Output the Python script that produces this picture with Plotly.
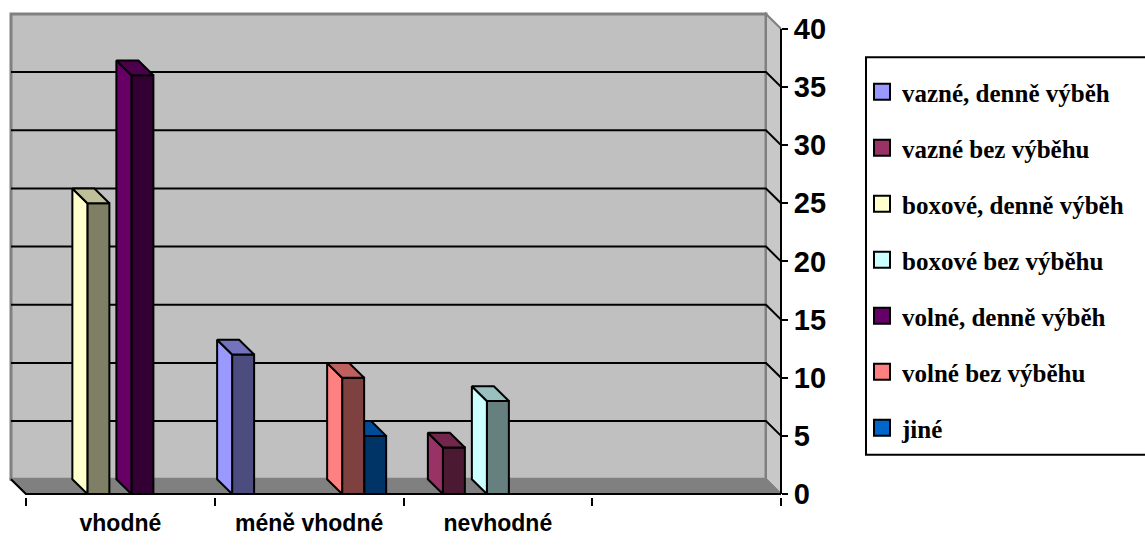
import plotly.graph_objects as go

# ---- data -------------------------------------------------------------
categories = ["vhodné", "méně vhodné", "nevhodné", ""]
series_names = [
    "vazné, denně výběh",
    "vazné bez výběhu",
    "boxové, denně výběh",
    "boxové bez výběhu",
    "volné, denně výběh",
    "volné bez výběhu",
    "jiné",
]
vazne_denne = [None, 12, None, None]
vazne_bez = [None, None, 4, None]
boxove_denne = [25, None, None, None]
boxove_bez = [None, None, 8, None]
volne_denne = [36, None, None, None]
volne_bez = [None, 10, None, None]
jine = [None, 5, None, None]
series_values = [vazne_denne, vazne_bez, boxove_denne, boxove_bez,
                 volne_denne, volne_bez, jine]
series_colors = ["#9999FF", "#993366", "#FFFFCC", "#CCFFFF",
                 "#660066", "#FF8080", "#0066CC"]
y_ticks = [0, 5, 10, 15, 20, 25, 30, 35, 40]
Y_TOP = 40

# ---- geometry of the pseudo-3D box (pixels -> data units) --------------
W, H = 1145, 545
PX_LEFT, PX_RIGHT, PX_TOP, PX_BOTTOM = 9, 781, 11, 505
FRONT_X0_PX = 26          # front-left corner of the floor
Y0_PX, YTOP_PX = 502, 29  # front-plane pixel rows of 0 and 40
DEPTH_PX = 15             # oblique offset of the back plane

n_cat = len(categories)
PXX = (PX_RIGHT - FRONT_X0_PX) / n_cat
PXY = (Y0_PX - YTOP_PX) / Y_TOP
DX = DEPTH_PX / PXX
DY = DEPTH_PX / PXY
x_range = [-(FRONT_X0_PX - PX_LEFT) / PXX, n_cat]
y_range = [-(PX_BOTTOM - Y0_PX) / PXY, Y_TOP + (YTOP_PX - PX_TOP) / PXY]

SIDE_GAP = 0.092
n_ser = len(series_names)
BAR_W = (1 - 2 * SIDE_GAP) / n_ser


def shade(hex_color, k):
    h = hex_color.lstrip("#")
    r, g, b = (int(h[i:i + 2], 16) for i in (0, 2, 4))
    return "rgb({},{},{})".format(int(r * k), int(g * k), int(b * k))


fig = go.Figure()

# legend entries
for name, col in zip(series_names, series_colors):
    fig.add_trace(go.Scatter(
        x=[None], y=[None], mode="markers", name="<b>" + name + "</b>",
        legendgroup=name,
        marker=dict(symbol="square", size=16, color=col,
                    line=dict(color="black", width=2)),
        hoverinfo="skip"))

# bars: series further left sit in front of the ones to their right
for s, (name, vals, col) in enumerate(zip(series_names, series_values, series_colors)):
    z = n_ser - s
    xs_side, ys_side, xs_top, ys_top = [], [], [], []
    bx, by = [], []
    for c, v in enumerate(vals):
        if v is None:
            continue
        x0 = c + SIDE_GAP + s * BAR_W
        x1 = x0 + BAR_W
        xs_side += [x0, x0, x0 - DX, x0 - DX, x0, None]
        ys_side += [0, v, v + DY, DY, 0, None]
        xs_top += [x0, x1, x1 - DX, x0 - DX, x0, None]
        ys_top += [v, v, v + DY, v + DY, v, None]
        bx.append(x0 + BAR_W / 2)
        by.append(v)
    if not bx:
        continue
    fig.add_trace(go.Bar(
        x=bx, y=by, width=BAR_W, base=0, name=name, legendgroup=name,
        showlegend=False, zorder=z,
        marker=dict(color=shade(col, 0.5), line=dict(color="black", width=2)),
        hovertemplate=name + ": %{y}<extra></extra>"))
    fig.add_trace(go.Scatter(
        x=xs_side, y=ys_side, mode="lines", fill="toself", fillcolor=col,
        line=dict(color="black", width=2), showlegend=False,
        legendgroup=name, hoverinfo="skip", zorder=z))
    fig.add_trace(go.Scatter(
        x=xs_top, y=ys_top, mode="lines", fill="toself",
        fillcolor=shade(col, 0.75), line=dict(color="black", width=2),
        showlegend=False, legendgroup=name, hoverinfo="skip", zorder=z))

# ---- walls, floor and gridlines ---------------------------------------
shapes = []
bx0, bx1 = -DX, n_cat - DX
# back wall
shapes.append(dict(type="rect", xref="x", yref="y", x0=bx0, x1=bx1,
                   y0=DY, y1=Y_TOP + DY, fillcolor="#C0C0C0",
                   line=dict(color="#808080", width=3), layer="below"))
# right side wall
shapes.append(dict(type="path", xref="x", yref="y",
                   path="M{a},{b} L{a},{c} L{d},{e} L{d},{f} Z".format(
                       a=bx1, b=DY, c=Y_TOP + DY, d=n_cat, e=Y_TOP, f=0),
                   fillcolor="#C8C8C8", line=dict(color="#808080", width=2),
                   layer="below"))
# floor
shapes.append(dict(type="path", xref="x", yref="y",
                   path="M{a},{b} L{c},{b} L{d},0 L0,0 Z".format(
                       a=bx0, b=DY, c=bx1, d=n_cat),
                   fillcolor="#808080", line=dict(color="#808080", width=2),
                   layer="below"))
shapes.append(dict(type="path", xref="x", yref="y",
                   path="M{a},{b} L0,0 L{d},0".format(a=bx0, b=DY, d=n_cat),
                   line=dict(color="black", width=2), layer="below"))
# gridlines on the back wall, folding onto the side wall
for t in y_ticks[1:-1]:
    shapes.append(dict(type="path", xref="x", yref="y",
                       path="M{a},{b} L{c},{b} L{d},{e}".format(
                           a=bx0, b=t + DY, c=bx1, d=n_cat, e=t),
                       line=dict(color="black", width=2), layer="below"))
# value axis line
shapes.append(dict(type="line", xref="paper", yref="y", x0=1, x1=1,
                   y0=0, y1=Y_TOP, line=dict(color="black", width=2)))

# legend frame
plot_w = W - PX_LEFT - (W - PX_RIGHT)
plot_h = PX_BOTTOM - PX_TOP
LEG_L, LEG_T, LEG_B = 866, 58, 462
shapes.append(dict(type="rect", xref="paper", yref="paper",
                   x0=(LEG_L - PX_LEFT) / plot_w, x1=(W + 20 - PX_LEFT) / plot_w,
                   y0=1 - (LEG_B - PX_TOP) / plot_h, y1=1 - (LEG_T - PX_TOP) / plot_h,
                   line=dict(color="black", width=2), fillcolor="rgba(0,0,0,0)"))

fig.update_layout(
    width=W, height=H,
    margin=dict(l=PX_LEFT, r=W - PX_RIGHT, t=PX_TOP, b=H - PX_BOTTOM),
    paper_bgcolor="white", plot_bgcolor="white",
    barmode="overlay",
    shapes=shapes,
    showlegend=True,
    legend=dict(
        x=(862 - PX_LEFT) / plot_w, xanchor="left",
        y=1 - (70 - PX_TOP) / plot_h, yanchor="top",
        traceorder="grouped", tracegroupgap=20.5,
        font=dict(family="Liberation Serif, DejaVu Serif, serif", size=25,
                  color="black"),
        bgcolor="rgba(0,0,0,0)", borderwidth=0),
    xaxis=dict(
        range=x_range, showgrid=False, zeroline=False, showline=False,
        tickmode="array", tickvals=[c + 0.5 for c in range(n_cat)],
        ticktext=["<b>" + c + "</b>" for c in categories],
        ticks="outside", ticklen=0,
        tickfont=dict(family="Liberation Sans, Arial, sans-serif", size=23,
                      color="black"),
        ticklabelstandoff=5,
        minor=dict(tickmode="array", tickvals=list(range(n_cat + 1)),
                   ticks="outside", ticklen=8, tickwidth=2,
                   tickcolor="black", showgrid=False),
        fixedrange=True),
    yaxis=dict(
        range=y_range, side="right", showgrid=False, zeroline=False,
        showline=False, tickmode="array", tickvals=y_ticks,
        ticktext=["<b>{}</b>".format(t) for t in y_ticks],
        ticks="outside", ticklen=6, tickwidth=2, tickcolor="black",
        tickfont=dict(family="Liberation Sans, Arial, sans-serif", size=29,
                      color="black"),
        fixedrange=True),
)

fig.write_html("out.html")
